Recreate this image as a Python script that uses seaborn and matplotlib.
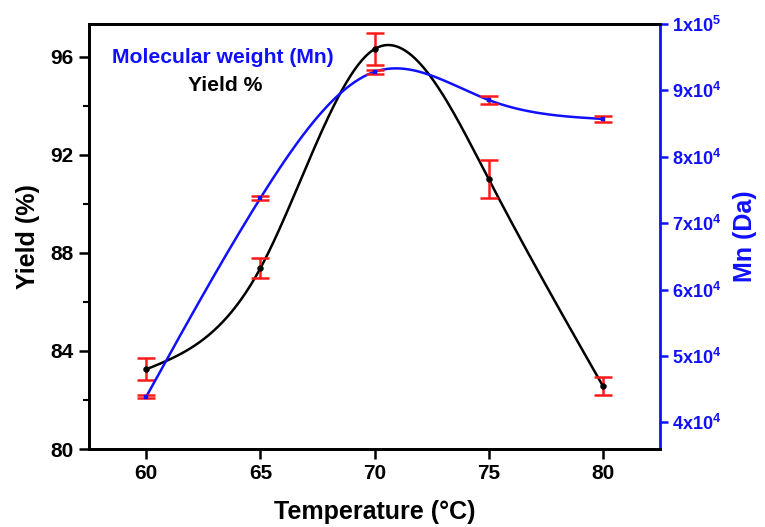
import numpy as np
import pandas as pd
import matplotlib
matplotlib.use("Agg")
import matplotlib.pyplot as plt
import seaborn as sns

# ---- data ----
temperature = [60, 65, 70, 75, 80]
yield_pct = [83.25, 87.38, 96.31, 91.0, 82.57]
yield_err = [0.45, 0.40, 0.66, 0.77, 0.37]
mn_da = [43900, 73800, 92800, 88550, 85700]
mn_err = [250, 300, 330, 550, 480]
x_ticks = [60, 65, 70, 75, 80]
yield_ticks = [80, 84, 88, 92, 96]
mn_ticks = [40000, 50000, 60000, 70000, 80000, 90000, 100000]
mn_tick_labels = [r"$\mathbf{4x10^{4}}$", r"$\mathbf{5x10^{4}}$", r"$\mathbf{6x10^{4}}$",
                  r"$\mathbf{7x10^{4}}$", r"$\mathbf{8x10^{4}}$", r"$\mathbf{9x10^{4}}$",
                  r"$\mathbf{1x10^{5}}$"]


def natural_spline(x, y, n=300):
    x = np.asarray(x, float)
    y = np.asarray(y, float)
    k = len(x)
    h = np.diff(x)
    A = np.zeros((k, k))
    b = np.zeros(k)
    A[0, 0] = 1
    A[-1, -1] = 1
    for i in range(1, k - 1):
        A[i, i - 1] = h[i - 1]
        A[i, i] = 2 * (h[i - 1] + h[i])
        A[i, i + 1] = h[i]
        b[i] = 6 * ((y[i + 1] - y[i]) / h[i] - (y[i] - y[i - 1]) / h[i - 1])
    M = np.linalg.solve(A, b)
    xs = np.linspace(x[0], x[-1], n)
    ys = np.empty_like(xs)
    for j, xv in enumerate(xs):
        i = min(np.searchsorted(x, xv, side="right") - 1, k - 2)
        t1 = x[i + 1] - xv
        t0 = xv - x[i]
        ys[j] = (M[i] * t1 ** 3 / (6 * h[i]) + M[i + 1] * t0 ** 3 / (6 * h[i])
                 + (y[i] / h[i] - M[i] * h[i] / 6) * t1
                 + (y[i + 1] / h[i] - M[i + 1] * h[i] / 6) * t0)
    return xs, ys


sns.set_style("white")
plt.rcParams["font.family"] = ["Liberation Sans", "DejaVu Sans"]
plt.rcParams["font.weight"] = "bold"
plt.rcParams["text.color"] = "black"
plt.rcParams["axes.labelcolor"] = "black"
plt.rcParams["xtick.color"] = "black"
plt.rcParams["ytick.color"] = "black"
plt.rcParams["mathtext.fontset"] = "custom"
plt.rcParams["mathtext.bf"] = "Liberation Sans:bold"
plt.rcParams["mathtext.rm"] = "Liberation Sans"

BLUE = "#1010ff"
RED = "#ff1a1a"

fig = plt.figure(figsize=(7.65, 5.27), dpi=100)
ax = fig.add_axes([0.1167, 0.148, 0.746, 0.8065])
ax2 = ax.twinx()

# Yield curve
xs, ys = natural_spline(temperature, yield_pct)
df_y = pd.DataFrame({"T": xs, "Y": ys})
sns.lineplot(data=df_y, x="T", y="Y", ax=ax, color="black", lw=1.8, zorder=3)
ax.errorbar(temperature, yield_pct, yerr=yield_err, fmt="none", ecolor=RED,
            elinewidth=1.8, capsize=6.5, capthick=1.8, zorder=4)
sns.scatterplot(x=temperature, y=yield_pct, ax=ax, color="black", s=18,
                edgecolor="black", zorder=5)

# Mn curve
xs2, ys2 = natural_spline(temperature, mn_da)
df_m = pd.DataFrame({"T": xs2, "M": ys2})
sns.lineplot(data=df_m, x="T", y="M", ax=ax2, color=BLUE, lw=1.8, zorder=3)
ax2.errorbar(temperature, mn_da, yerr=mn_err, fmt="none", ecolor=RED,
             elinewidth=1.8, capsize=6.5, capthick=1.8, zorder=4)
sns.scatterplot(x=temperature, y=mn_da, ax=ax2, color=BLUE, s=12, marker="s",
                edgecolor=BLUE, zorder=5)

ax.set_xlim(57.5, 82.5)
ax.set_ylim(80, 97.33)
ax2.set_ylim(36000, 100000)

ax.set_xticks(x_ticks)
ax.set_xticklabels([str(v) for v in x_ticks], fontsize=15, fontweight="bold")
ax.set_yticks(yield_ticks)
ax.set_yticklabels([str(v) for v in yield_ticks], fontsize=15, fontweight="bold")
ax.set_yticks([82, 86, 90, 94], minor=True)
ax.tick_params(axis="both", which="major", direction="out", length=7, width=1.8,
               bottom=True, left=True, pad=4, colors="black")
ax.tick_params(axis="y", which="minor", direction="out", length=4, width=1.5, left=True,
               colors="black")

ax2.set_yticks(mn_ticks)
ax2.set_yticklabels(mn_tick_labels, fontsize=13, color=BLUE)
ax2.tick_params(axis="y", which="major", direction="out", length=6, width=1.8,
                right=True, colors=BLUE, pad=3)

ax.set_xlabel("Temperature (°C)", fontsize=18, fontweight="bold", labelpad=12, color="black")
ax.set_ylabel("Yield (%)", fontsize=18, fontweight="bold", labelpad=8, color="black")
ax2.set_ylabel("Mn (Da)", fontsize=18, fontweight="bold", color=BLUE, labelpad=8)

for s in ["left", "bottom", "top"]:
    ax.spines[s].set_linewidth(2.0)
    ax.spines[s].set_color("black")
    ax2.spines[s].set_linewidth(2.0)
    ax2.spines[s].set_color("black")
ax2.spines["right"].set_color(BLUE)
ax2.spines["right"].set_linewidth(2.0)
ax.spines["right"].set_visible(False)

ax.text(0.04, 0.921, "Molecular weight (Mn)", transform=ax.transAxes, color=BLUE,
        fontsize=15.2, fontweight="bold", ha="left", va="center")
ax.text(0.2387, 0.856, "Yield %", transform=ax.transAxes, color="black",
        fontsize=15.2, fontweight="bold", ha="center", va="center")

fig.savefig("out.png", dpi=100)
